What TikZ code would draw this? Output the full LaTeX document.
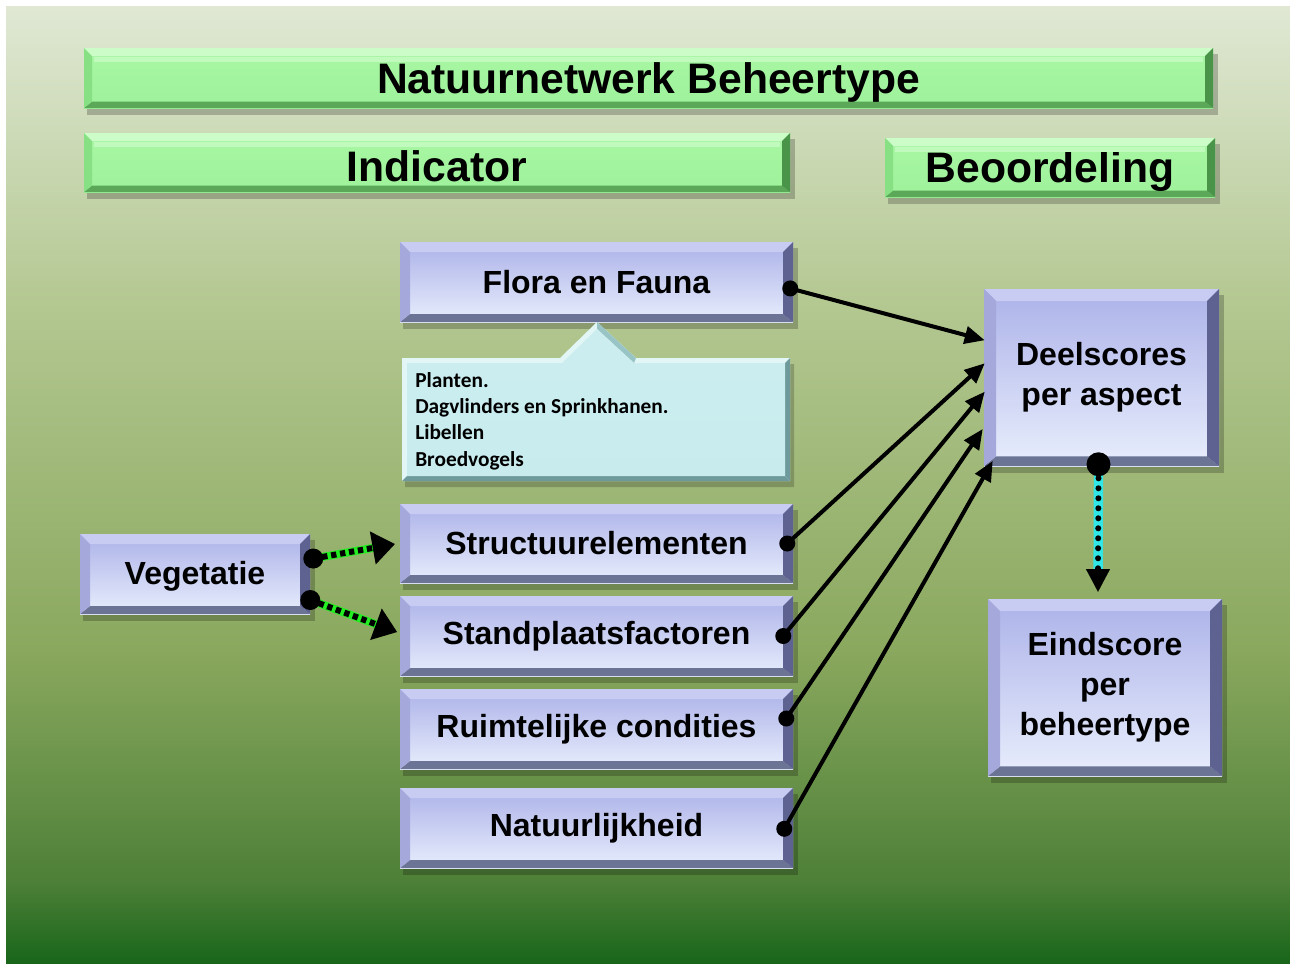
\documentclass[tikz,border=0pt]{standalone}
\usepackage{fontspec}
\setmainfont{Liberation Sans}
\newfontfamily\calibrilike{Carlito}
\usetikzlibrary{arrows.meta,calc}

% background
\definecolor{bgA}{HTML}{E0E8D4}
\definecolor{bgB}{HTML}{B4C892}
\definecolor{bgC}{HTML}{8AA85E}
\definecolor{bgD}{HTML}{4E8038}
\definecolor{bgE}{HTML}{18661A}

% lavender bevel palette
\definecolor{lavFtop}{HTML}{ACB2E8}
\definecolor{lavFbot}{HTML}{E8EEFC}
\definecolor{lavT}{HTML}{C8CCF2}
\definecolor{lavB}{HTML}{6C7496}
\definecolor{lavL}{HTML}{A4A8DA}
\definecolor{lavR}{HTML}{5E6290}

% green bevel palette
\definecolor{grnFtop}{HTML}{A8F6A4}
\definecolor{grnFbot}{HTML}{9EF29A}
\definecolor{grnT}{HTML}{CCFCC8}
\definecolor{grnB}{HTML}{5AA858}
\definecolor{grnL}{HTML}{88E084}
\definecolor{grnR}{HTML}{4A944A}

% callout palette
\definecolor{calFace}{HTML}{C8ECEE}
\definecolor{calLight}{HTML}{E2F6F6}
\definecolor{calDark}{HTML}{6E9A9C}
\definecolor{calMid}{HTML}{98C4C6}

\definecolor{vegGreen}{HTML}{22EE22}
\definecolor{linkCyan}{HTML}{30E6E6}

\tikzset{
  boxtext/.style={font=\bfseries\fontsize{24}{30}\selectfont, align=center, inner sep=0pt, text=black},
  bartext/.style={font=\bfseries\fontsize{32}{38}\selectfont, align=center, inner sep=0pt, text=black, yshift=-3pt},
  link/.style={line width=3pt, black, -{Triangle[length=15pt,width=13pt]}},
  dotstart/.style={fill=black, circle, inner sep=0pt, minimum size=12pt},
}

% bevelled box: name, x1, y1, x2, y2, palette, bevel depth, text style, text
\newcommand\bevelbox[9]{%
  \fill[black,opacity=0.22] ({#2+3},{#3+6}) rectangle ({#4+5},{#5+7});
  \shade[top color=#6Ftop, bottom color=#6Fbot] (#2,#3) rectangle (#4,#5);
  \fill[#6T] (#2,#3) -- (#4,#3) -- ({#4-#7},{#3+#7}) -- ({#2+#7},{#3+#7}) -- cycle;
  \fill[#6B] (#2,#5) -- (#4,#5) -- ({#4-#7},{#5-#7*0.8}) -- ({#2+#7},{#5-#7*0.8}) -- cycle;
  \fill[#6L] (#2,#3) -- ({#2+#7},{#3+#7}) -- ({#2+#7},{#5-#7*0.8}) -- (#2,#5) -- cycle;
  \fill[#6R] (#4,#3) -- ({#4-#7},{#3+#7}) -- ({#4-#7},{#5-#7*0.8}) -- (#4,#5) -- cycle;
  \node[#8, minimum width={(#4-#2)*0.75pt}, minimum height={(#5-#3)*0.75pt}]
    (#1) at ({(#2+#4)/2},{(#3+#5)/2}) {#9};
}
% pale highlight stripe along the top of a green bar: x1, y1, x2
\newcommand\barshine[3]{%
  \fill[grnT!70!grnFtop] ({#1+10},{#2+9}) rectangle ({#3-10},{#2+14});
}

\begin{document}
\begin{tikzpicture}[x=0.75pt,y=-0.75pt]
\useasboundingbox (0,0) rectangle (1290,965);
\fill[white] (0,0) rectangle (1290,965);

% backdrop gradient
\shade[top color=bgA, bottom color=bgB] (6,6) rectangle (1290,300.5);
\shade[top color=bgB, bottom color=bgC] (6,300) rectangle (1290,650.5);
\shade[top color=bgC, bottom color=bgD] (6,650) rectangle (1290,880.5);
\shade[top color=bgD, bottom color=bgE] (6,880) rectangle (1290,963);

% header bars
\bevelbox{title}{84}{48}{1213}{108}{grn}{8}{bartext}{Natuurnetwerk Beheertype}
\bevelbox{indicator}{84}{133}{790}{192}{grn}{8}{bartext}{Indicator}
\bevelbox{beoordeling}{885}{138}{1215}{197}{grn}{8}{bartext}{Beoordeling}
\barshine{84}{48}{1213}
\barshine{84}{133}{790}
\barshine{885}{138}{1215}

% indicator boxes
\bevelbox{flora}{400}{242}{793}{322}{lav}{10}{boxtext}{Flora en Fauna}
\bevelbox{struct}{400}{504}{793}{583}{lav}{10}{boxtext}{Structuurelementen}
\bevelbox{stand}{400}{596}{793}{676}{lav}{10}{boxtext}{Standplaatsfactoren}
\bevelbox{ruimte}{400}{689}{793}{769}{lav}{10}{boxtext}{Ruimtelijke condities}
\bevelbox{natuur}{400}{788}{793}{868}{lav}{10}{boxtext}{Natuurlijkheid}
\bevelbox{veget}{80}{534}{310}{614}{lav}{10}{boxtext,yshift=-2pt}{Vegetatie}

% assessment boxes
\bevelbox{deel}{984}{289}{1219}{466}{lav}{12}{boxtext}{Deelscores\\per aspect}
\bevelbox{eind}{988}{599}{1222}{776}{lav}{12}{boxtext}{Eindscore\\per\\beheertype}

% callout listing the species groups
\fill[black,opacity=0.2] (405,364) -- (562,364) -- (599,328) -- (638,364) -- (794,364) -- (794,487) -- (405,487) -- cycle;
\fill[calLight] (402,358) -- (560,358) -- (597,322) -- (636,358) -- (790,358) -- (790,481) -- (402,481) -- cycle;
\fill[calDark] (790,358) -- (785,363) -- (785,476) -- (790,481) -- cycle;
\fill[calDark] (402,481) -- (407,476) -- (785,476) -- (790,481) -- cycle;
\fill[calMid] (597,322) -- (636,358) -- (634,363) -- (597,329) -- cycle;
\shade[top color=calFace!85!calLight, bottom color=calFace] (407,363) -- (562,363) -- (597,329) -- (634,363) -- (785,363) -- (785,476) -- (407,476) -- cycle;
\node[anchor=north west, align=left, inner sep=0pt,
      font=\calibrilike\bfseries\fontsize{16}{19.7}\selectfont] (soorten) at (415,372)
  {Planten.\\Dagvlinders en Sprinkhanen.\\Libellen\\Broedvogels};

% links from the indicators to the partial scores
\coordinate (f1) at ($(flora.north east)!0.58!(flora.south east)+(-3,0)$);
\coordinate (s1) at ($(struct.north east)!0.5!(struct.south east)+(-6,0)$);
\coordinate (p1) at ($(stand.north east)!0.5!(stand.south east)+(-10,0)$);
\coordinate (r1) at ($(ruimte.north east)!0.37!(ruimte.south east)+(-7,0)$);
\coordinate (n1) at ($(natuur.north east)!0.51!(natuur.south east)+(-9,0)$);

\draw[link] (f1) -- ($(deel.north west)!0.29!(deel.south west)+(1,0)$);
\draw[link] (s1) -- ($(deel.north west)!0.42!(deel.south west)+(1,0)$);
\draw[link] (p1) -- ($(deel.north west)!0.58!(deel.south west)+(1,0)$);
\draw[link] (r1) -- ($(deel.north west)!0.79!(deel.south west)+(-1,0)$);
\draw[link] (n1) -- ($(deel.north west)!0.97!(deel.south west)+(9,0)$);
\foreach \c in {f1,s1,p1,r1,n1} \node[dotstart] at (\c) {};

% vegetation feeds two indicators
\coordinate (v1) at ($(veget.north east)!0.275!(veget.south east)+(3,0)$);
\coordinate (v2) at ($(veget.north east)!0.79!(veget.south east)$);
\coordinate (v1e) at ($(struct.west)+(-2,0)$);
\coordinate (v2e) at ($(stand.west)+(0,-3)$);
\draw[vegGreen, line width=6pt, shorten >=12pt] (v1) -- (v1e);
\draw[vegGreen, line width=6pt, shorten >=12pt] (v2) -- (v2e);
\draw[black, line width=4.5pt, dash pattern=on 4pt off 2.8pt, shorten >=2pt,
      -{Triangle[length=17pt,width=24pt]}] (v1) -- (v1e);
\draw[black, line width=4.5pt, dash pattern=on 4pt off 2.8pt, shorten >=2pt,
      -{Triangle[length=17pt,width=24pt]}] (v2) -- (v2e);
\node[dotstart, minimum size=15pt] at (v1) {};
\node[dotstart, minimum size=15pt] at (v2) {};

% partial scores combine into the final score
\coordinate (d1) at ($(deel.south)+(-3,-2)$);
\coordinate (e1) at ($(eind.north)+(-7,-7)$);
\draw[linkCyan, line width=7pt, shorten >=12pt] (d1) -- (e1);
\draw[black, line width=4.5pt, line cap=round, dash pattern=on 0pt off 7.5pt]
  ($(d1)+(0,14)$) -- ($(e1)+(0,-22)$);
\draw[black, line width=0.1pt, -{Triangle[length=17pt,width=18pt]}] ($(e1)+(0,-14)$) -- (e1);
\node[dotstart, minimum size=18pt] at (d1) {};
\end{tikzpicture}
\end{document}
